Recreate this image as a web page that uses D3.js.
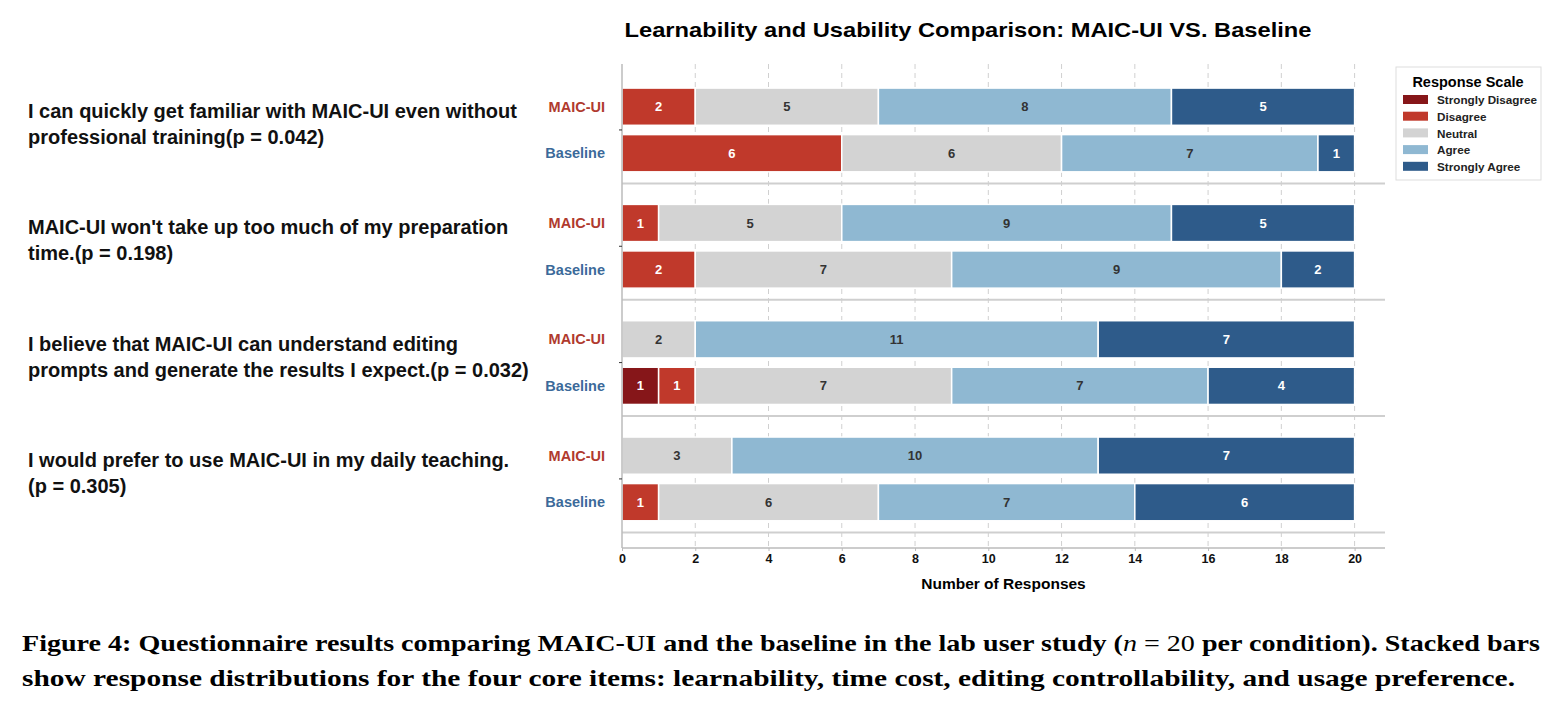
<!DOCTYPE html>
<html>
<head>
<meta charset="utf-8">
<script src="https://cdn.jsdelivr.net/npm/d3@7"></script>
<style>
  body { margin: 0; background: #fff; }
  svg { display: block; font-family: "Liberation Sans", Arial, sans-serif; }
  .caption { font-family: "Liberation Serif", "Times New Roman", Times, "Nimbus Roman", serif; }
</style>
</head>
<body>
<svg width="1565" height="708"></svg>
<script>
let width = 1565,
    height = 708;

let questions = [
  ["I can quickly get familiar with MAIC-UI even without", "professional training(p = 0.042)"],
  ["MAIC-UI won't take up too much of my preparation", "time.(p = 0.198)"],
  ["I believe that MAIC-UI can understand editing", "prompts and generate the results I expect.(p = 0.032)"],
  ["I would prefer to use MAIC-UI in my daily teaching.", "(p = 0.305)"]
];
let conditions = ["MAIC-UI", "Baseline"];
let scaleLabels = ["Strongly Disagree", "Disagree", "Neutral", "Agree", "Strongly Agree"];
let colors = ["#861619", "#c0392b", "#d3d3d3", "#8fb8d2", "#2e5b8a"];

// counts per question: [strongly disagree, disagree, neutral, agree, strongly agree]
let maicCounts = [
  [0, 2, 5, 8, 5],
  [0, 1, 5, 9, 5],
  [0, 0, 2, 11, 7],
  [0, 0, 3, 10, 7]
];
let baselineCounts = [
  [0, 6, 6, 7, 1],
  [0, 2, 7, 9, 2],
  [1, 1, 7, 7, 4],
  [0, 1, 6, 7, 6]
];
let xTicks = [0, 2, 4, 6, 8, 10, 12, 14, 16, 18, 20];

let x = d3.scaleLinear().domain([0, 20.83]).range([622, 1385]);
let y = d3.scaleLinear().domain([-0.567, 3.594]).range([64, 548]);
let barH = y(0.32) - y(0);

let svg = d3.select("svg");

// title
svg.append("text")
  .attr("x", 968).attr("y", 37)
  .attr("text-anchor", "middle")
  .attr("font-size", 21).attr("font-weight", "bold")
  .attr("textLength", 687).attr("lengthAdjust", "spacingAndGlyphs")
  .text("Learnability and Usability Comparison: MAIC-UI VS. Baseline");

// vertical grid
svg.append("g").selectAll("line")
  .data(xTicks.slice(1))
  .enter().append("line")
    .attr("x1", d => x(d)).attr("x2", d => x(d))
    .attr("y1", y.range()[0]).attr("y2", y.range()[1])
    .attr("stroke", "#d0d0d0").attr("stroke-width", 1)
    .attr("stroke-dasharray", "5,4");

// separators between question groups
svg.append("g").selectAll("line")
  .data(d3.range(questions.length))
  .enter().append("line")
    .attr("x1", x(0)).attr("x2", x.range()[1])
    .attr("y1", d => y(d + 0.46)).attr("y2", d => y(d + 0.46))
    .attr("stroke", "#cfcfcf").attr("stroke-width", 2);

// rows
let rows = [];
questions.forEach((q, i) => {
  [maicCounts[i], baselineCounts[i]].forEach((counts, j) => {
    let start = 0;
    counts.forEach((v, k) => {
      if (v > 0) rows.push({q: i, cond: j, k: k, x0: start, x1: start + v, v: v});
      start += v;
    });
  });
});
let rowY = d => y(d.q + (d.cond === 0 ? -0.2 : 0.2));

let bars = svg.append("g").selectAll("g")
  .data(rows)
  .enter().append("g");

bars.append("rect")
  .attr("x", d => x(d.x0))
  .attr("width", d => x(d.x1) - x(d.x0))
  .attr("y", d => rowY(d) - barH / 2)
  .attr("height", barH)
  .attr("fill", d => colors[d.k])
  .attr("stroke", "#fff").attr("stroke-width", 1.5);

bars.append("text")
  .attr("x", d => (x(d.x0) + x(d.x1)) / 2)
  .attr("y", d => rowY(d))
  .attr("dy", "0.35em")
  .attr("text-anchor", "middle")
  .attr("font-size", 13).attr("font-weight", "bold")
  .attr("fill", d => (d.k === 2 || d.k === 3) ? "#333" : "#fff")
  .text(d => d.v);

// spines
svg.append("line")
  .attr("x1", x(0)).attr("x2", x(0))
  .attr("y1", y.range()[0]).attr("y2", y.range()[1])
  .attr("stroke", "#bbb").attr("stroke-width", 1.5);
svg.append("line")
  .attr("x1", x(0)).attr("x2", x.range()[1])
  .attr("y1", y.range()[1]).attr("y2", y.range()[1])
  .attr("stroke", "#bbb").attr("stroke-width", 1.5);

// x axis
let xAxis = svg.append("g")
  .attr("transform", "translate(0," + y.range()[1] + ")")
  .call(d3.axisBottom(x).tickValues(xTicks).tickSize(3).tickPadding(3));
xAxis.select(".domain").remove();
xAxis.selectAll(".tick line").attr("stroke", "#bbb");
xAxis.selectAll(".tick text")
  .style("font-family", "'Liberation Sans', Arial, sans-serif")
  .style("font-size", "12.5px").style("font-weight", "bold").attr("fill", "#111");

svg.append("text")
  .attr("x", (x.range()[0] + x.range()[1]) / 2).attr("y", 589)
  .attr("text-anchor", "middle")
  .attr("font-size", 15.5).attr("font-weight", "bold")
  .text("Number of Responses");

// small group ticks on the left spine
svg.append("g").selectAll("line")
  .data(d3.range(questions.length))
  .enter().append("line")
    .attr("x1", x(0) - 3).attr("x2", x(0))
    .attr("y1", d => y(d)).attr("y2", d => y(d))
    .attr("stroke", "#333").attr("stroke-width", 1);

// condition labels
let condLabels = [];
questions.forEach((q, i) => conditions.forEach((c, j) => condLabels.push({q: i, cond: j, name: c})));
svg.append("g").selectAll("text")
  .data(condLabels)
  .enter().append("text")
    .attr("x", 605)
    .attr("y", d => rowY(d))
    .attr("dy", "0.35em")
    .attr("text-anchor", "end")
    .attr("font-size", 14.5).attr("font-weight", "bold")
    .attr("fill", d => d.cond === 0 ? "#b03a2e" : "#3b6a9a")
    .text(d => d.name);

// question text
let qText = svg.append("g").selectAll("text")
  .data(questions)
  .enter().append("text")
    .attr("x", 28)
    .attr("font-size", 20).attr("font-weight", "bold")
    .attr("fill", "#111");
qText.append("tspan")
  .attr("x", 28)
  .attr("y", (d, i) => y(i) - 12)
  .text(d => d[0]);
qText.append("tspan")
  .attr("x", 28)
  .attr("y", (d, i) => y(i) + 14)
  .text(d => d[1]);

// legend
let legend = svg.append("g").attr("transform", "translate(1396,67)");
legend.append("rect")
  .attr("width", 145).attr("height", 113)
  .attr("fill", "#fff").attr("stroke", "#ddd").attr("stroke-width", 1);
legend.append("text")
  .attr("x", 72).attr("y", 20)
  .attr("text-anchor", "middle")
  .attr("font-size", 14.5).attr("font-weight", "bold")
  .text("Response Scale");
let items = legend.selectAll(".item")
  .data(scaleLabels)
  .enter().append("g")
    .attr("transform", (d, i) => "translate(0," + (33 + i * 16.7) + ")");
items.append("rect")
  .attr("x", 7).attr("y", -5)
  .attr("width", 25).attr("height", 9)
  .attr("fill", (d, i) => colors[i]);
items.append("text")
  .attr("x", 41).attr("dy", "0.35em")
  .attr("font-size", 11.7).attr("font-weight", "bold")
  .attr("fill", "#222")
  .text(d => d);

// caption
let cap1 = svg.append("text")
  .attr("class", "caption")
  .attr("x", 22).attr("y", 651)
  .attr("font-size", 24).attr("font-weight", "bold")
  .attr("textLength", 1518).attr("lengthAdjust", "spacingAndGlyphs");
cap1.append("tspan").text("Figure 4: Questionnaire results comparing MAIC-UI and the baseline in the lab user study (");
cap1.append("tspan").attr("font-style", "italic").attr("font-weight", "normal").text("n");
cap1.append("tspan").attr("font-weight", "normal").text(" = 20");
cap1.append("tspan").text(" per condition). Stacked bars");

svg.append("text")
  .attr("class", "caption")
  .attr("x", 22).attr("y", 686)
  .attr("font-size", 24).attr("font-weight", "bold")
  .attr("textLength", 1493).attr("lengthAdjust", "spacingAndGlyphs")
  .text("show response distributions for the four core items: learnability, time cost, editing controllability, and usage preference.");
</script>
</body>
</html>
